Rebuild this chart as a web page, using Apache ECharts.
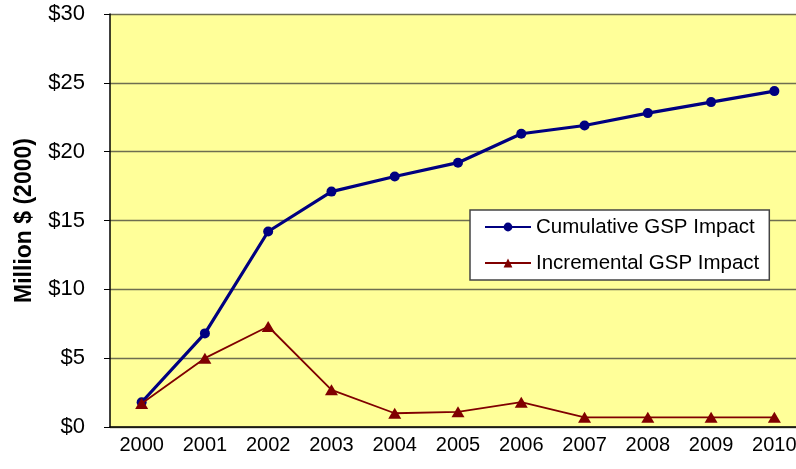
<!DOCTYPE html>
<html>
<head>
<meta charset="utf-8">
<script src="https://cdn.jsdelivr.net/npm/echarts@6/dist/echarts.min.js"></script>
<style>
  html, body { margin: 0; padding: 0; background: #ffffff; }
  #chart { width: 796px; height: 469px; }
</style>
</head>
<body>
<div id="chart"></div>
<script>
// Years on the category axis
const years = ['2000', '2001', '2002', '2003', '2004', '2005', '2006', '2007', '2008', '2009', '2010'];
// Gross state product impact, million $ (2000)
const cumulativeGSP = [1.8, 6.8, 14.2, 17.1, 18.2, 19.2, 21.3, 21.9, 22.8, 23.6, 24.4];
const incrementalGSP = [1.7, 5.0, 7.3, 2.7, 1.0, 1.1, 1.8, 0.7, 0.7, 0.7, 0.7];
// Value axis range and step
const yMin = 0, yMax = 30, yStep = 5;

const font = 'Liberation Sans, Arial, sans-serif';
const chart = echarts.init(document.getElementById('chart'), null, { renderer: 'canvas' });

chart.setOption({
  animation: false,
  backgroundColor: '#ffffff',
  textStyle: { fontFamily: font },
  grid: {
    left: 110, top: 14, width: 696, bottom: 42,
    containLabel: false,
    outerBoundsMode: 'none',
    show: true, backgroundColor: '#FFFF99', borderWidth: 0
  },
  legend: {
    orient: 'vertical',
    left: 470, top: 210,
    padding: [5, 10, 5, 14],
    itemGap: 12,
    itemWidth: 46, itemHeight: 11,
    backgroundColor: '#ffffff',
    borderColor: '#444444', borderWidth: 1.5,
    textStyle: { fontFamily: font, fontSize: 20.5, color: '#000000', lineHeight: 24 },
    data: ['Cumulative GSP Impact', 'Incremental GSP Impact']
  },
  xAxis: {
    type: 'category',
    data: years,
    boundaryGap: true,
    axisLine: { lineStyle: { color: '#000000', width: 1.5 } },
    axisTick: { alignWithLabel: false, length: 7, lineStyle: { color: '#000000' } },
    axisLabel: { color: '#000000', fontSize: 20, fontFamily: font, margin: 8 }
  },
  yAxis: {
    type: 'value',
    min: yMin, max: yMax, interval: yStep,
    name: 'Million $ (2000)',
    nameLocation: 'middle',
    nameGap: 74,
    nameTextStyle: { fontFamily: font, fontSize: 23, fontWeight: 'bold', color: '#000000' },
    axisLine: { show: true, lineStyle: { color: '#000000', width: 1.5 } },
    axisTick: { show: true, length: 6, lineStyle: { color: '#000000' } },
    axisLabel: { color: '#000000', fontSize: 22, fontFamily: font, margin: 25, formatter: v => '$' + v },
    splitLine: { show: true, lineStyle: { color: '#6e6e50', width: 1.3 } }
  },
  series: [
    {
      name: 'Cumulative GSP Impact',
      type: 'line',
      data: cumulativeGSP,
      color: '#000080',
      lineStyle: { width: 3.2, color: '#000080' },
      symbol: 'circle', symbolSize: 10,
      itemStyle: { color: '#000080' },
      z: 3
    },
    {
      name: 'Incremental GSP Impact',
      type: 'line',
      data: incrementalGSP,
      color: '#800000',
      lineStyle: { width: 1.8, color: '#800000' },
      symbol: 'triangle', symbolSize: [13, 11],
      itemStyle: { color: '#800000' },
      z: 4
    }
  ]
});
</script>
</body>
</html>
